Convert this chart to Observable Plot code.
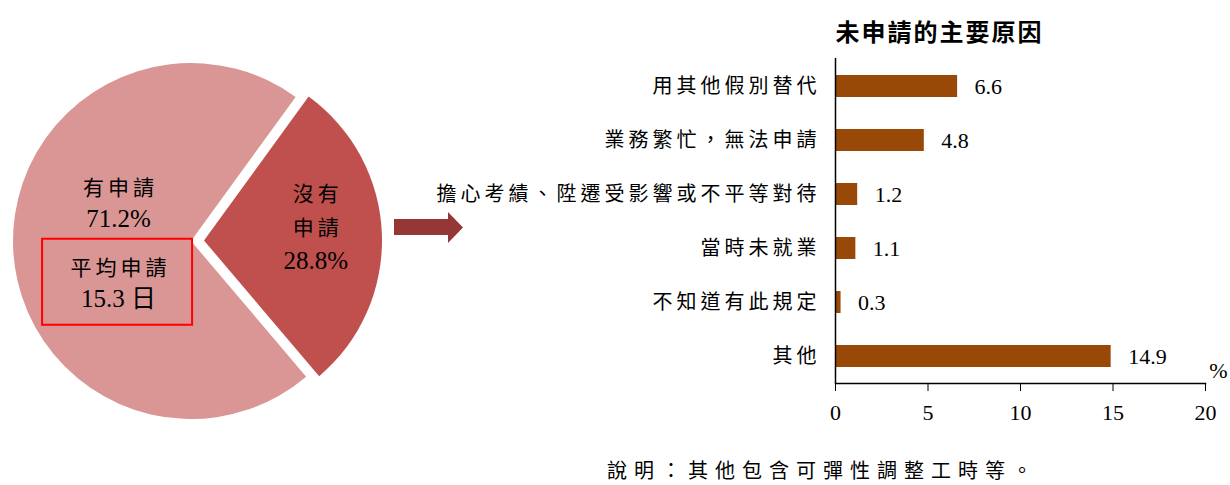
<!DOCTYPE html>
<html><head><meta charset="utf-8">
<script src="https://cdn.jsdelivr.net/npm/d3@7"></script>
<script src="https://cdn.jsdelivr.net/npm/@observablehq/plot@0.6"></script>
<style>
body{margin:0;background:#fff;}
#wrap{position:relative;width:1230px;height:485px;overflow:hidden;font-family:"Liberation Serif","Noto Sans CJK TC",serif;color:#000;}
#pie{position:absolute;left:0;top:0;}
#bar{position:absolute;left:420px;top:0;}
#note{position:absolute;left:607px;top:458px;font-family:"Noto Sans CJK TC",sans-serif;font-size:20px;letter-spacing:7px;white-space:nowrap;line-height:24px;}
g[aria-label="y-axis tick label"] text{letter-spacing:4px;}
g[aria-description="title"] text{letter-spacing:2px;}
g[aria-description="cjk-label"] text{letter-spacing:4px;}
</style></head><body>
<div id="wrap"><div id="pie"></div><div id="bar"></div><div id="note"></div></div>
<script>
// ---------- data ----------
const pieCategories = ["沒有申請", "有申請"];
const pieValues = [28.8, 71.2];
const avgDaysLabel = "平均申請";
const avgDays = 15.3;
const avgDaysUnit = "日";
const reasonCategories = ["用其他假別替代", "業務繁忙，無法申請", "擔心考績、陞遷受影響或不平等對待", "當時未就業", "不知道有此規定", "其他"];
const reasonValues = [6.6, 4.8, 1.2, 1.1, 0.3, 14.9];
const xTicks = [0, 5, 10, 15, 20];
const chartTitle = "未申請的主要原因";
const unitLabel = "%";
const noteText = "說明：其他包含可彈性調整工時等。";

// ---------- styles / layout ----------
const pieColors = {"沒有申請": "#C0504D", "有申請": "#D99694"};
const barColor = "#984807";
const arrowColor = "#953735";
const R = 178, CX = 191, CY = 241;
const deg = Math.PI / 180;
const startDeg = 36;
const explodePx = 13;

const pieGen = d3.pie().sort(null).startAngle(startDeg * deg).endAngle(startDeg * deg + 2 * Math.PI);
const arcs = pieGen(pieValues).map((a, i) => ({
  ...a, name: pieCategories[i],
  mid: (a.startAngle + a.endAngle) / 2,
  explode: i === 0 ? explodePx / R : 0
}));
const arcByName = Object.fromEntries(arcs.map(a => [a.name, a]));

// label anchor per slice (fraction of radius)
const labelRadius = {"有申請": 0.41, "沒有申請": 0.625};
function anchor(name) {
  const a = arcByName[name], r = labelRadius[name];
  return {x: Math.sin(a.mid) * (r + a.explode), y: Math.cos(a.mid) * (r + a.explode)};
}
const aYes = anchor("有申請"), aNo = anchor("沒有申請");
const fmtPct = v => v.toFixed(1) + "%";
// [text, anchor, pixel offset (down), kind]
const lineSpec = [
  ["有申請", aYes, -56, "cjk"],
  [fmtPct(pieValues[1]), aYes, -25, "num"],
  [avgDaysLabel, aYes, 24, "cjk"],
  [`${avgDays} ${avgDaysUnit}`, aYes, 55, "num"],
  [pieCategories[0].slice(0, 2), aNo, -43, "cjk"],
  [pieCategories[0].slice(2), aNo, -9, "cjk"],
  [fmtPct(pieValues[0]), aNo, 24, "num"]
];
const pieLines = lineSpec.map(([text, a, off, kind]) => ({text, kind, x: a.x, y: a.y - off / R}));
const boxes = [{x1: aYes.x - 76 / R, x2: aYes.x + 74 / R, y1: aYes.y + 5 / R, y2: aYes.y - 81 / R}];

function wedges(index, scales) {
  const g = d3.create("svg:g");
  const r = scales.x(1) - scales.x(0);
  const arcGen = d3.arc().innerRadius(0).outerRadius(r);
  for (const a of arcs) {
    const ox = Math.sin(a.mid) * a.explode, oy = Math.cos(a.mid) * a.explode;
    g.append("path")
      .attr("d", arcGen(a))
      .attr("fill", pieColors[a.name])
      .attr("transform", `translate(${scales.x(ox)},${scales.y(oy)})`);
  }
  return g.node();
}
function blockArrow() {
  const g = d3.create("svg:g");
  g.append("path")
    .attr("d", "M394,219 L448,219 L448,212 L463,227.5 L448,243 L448,235 L394,235 Z")
    .attr("fill", arrowColor);
  return g.node();
}

const piePlot = Plot.plot({
  width: 470, height: 485, margin: 0,
  x: {domain: [-1, 1], range: [CX - R, CX + R], axis: null},
  y: {domain: [-1, 1], range: [CY + R, CY - R], axis: null},
  style: {background: "transparent", overflow: "visible", color: "#000"},
  marks: [
    wedges,
    blockArrow,
    Plot.rect(boxes, {x1: "x1", x2: "x2", y1: "y1", y2: "y2", fill: "none", stroke: "#FF0000", strokeWidth: 2}),
    Plot.text(pieLines.filter(d => d.kind === "cjk"), {x: "x", y: "y", text: "text", fontSize: 21, dx: 2,
      fontFamily: "Noto Sans CJK TC", ariaDescription: "cjk-label", fill: "#000"}),
    Plot.text(pieLines.filter(d => d.kind === "num"), {x: "x", y: "y", text: "text", fontSize: 25,
      fontFamily: "Liberation Serif, Noto Sans CJK TC", fill: "#000"})
  ]
});
document.getElementById("pie").appendChild(piePlot);

// ---------- bar chart ----------
const reasons = reasonCategories.map((c, i) => ({reason: c, value: reasonValues[i]}));
const barPlot = Plot.plot({
  width: 810, height: 440,
  marginLeft: 415, marginRight: 25, marginTop: 58, marginBottom: 57,
  x: {domain: [0, 20]},
  y: {domain: reasonCategories, paddingInner: 0.594, paddingOuter: 0.297},
  style: {background: "transparent", overflow: "visible", color: "#000", fontFamily: "Liberation Serif, Noto Sans CJK TC"},
  marks: [
    Plot.barX(reasons, {x: "value", y: "reason", fill: barColor}),
    Plot.text(reasons, {x: "value", y: "reason", text: d => d.value.toFixed(1), dx: 17, textAnchor: "start",
      fontSize: 22, fontFamily: "Liberation Serif", fill: "#000"}),
    Plot.ruleX([0], {stroke: "#000", strokeWidth: 1.5}),
    Plot.frame({anchor: "bottom", stroke: "#000", strokeWidth: 1.5}),
    Plot.axisX({ticks: xTicks, tickSize: 8, tickPadding: 13, fontSize: 22, label: null, fontFamily: "Liberation Serif"}),
    Plot.axisY({tickSize: 0, tickPadding: 15, fontSize: 20, label: null, fontFamily: "Noto Sans CJK TC"}),
    Plot.text([chartTitle], {frameAnchor: "top-left", textAnchor: "start", lineAnchor: "middle", dy: -25, fontSize: 24,
      fontWeight: "bold", fontFamily: "Noto Sans CJK TC", ariaDescription: "title", fill: "#000"}),
    Plot.text([unitLabel], {frameAnchor: "bottom-right", textAnchor: "middle", lineAnchor: "middle", dx: 13, dy: -13,
      fontSize: 22, fontFamily: "Liberation Serif", fill: "#000"})
  ]
});
document.getElementById("bar").appendChild(barPlot);
document.getElementById("note").textContent = noteText;
</script>
</body></html>
